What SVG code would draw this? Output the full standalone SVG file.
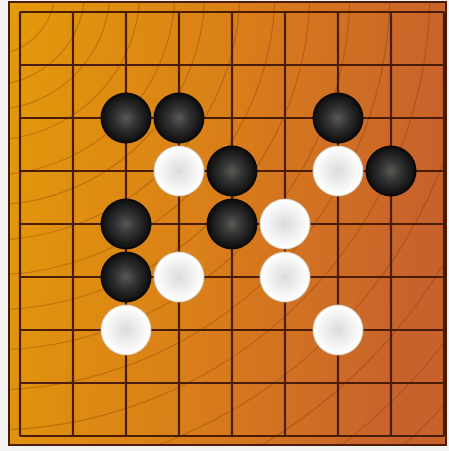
<svg xmlns="http://www.w3.org/2000/svg" width="449" height="451" viewBox="0 0 449 451">
  <defs>
    <linearGradient id="wood" x1="0" y1="0" x2="1" y2="0.15">
      <stop offset="0" stop-color="#E39A0A"/>
      <stop offset="0.5" stop-color="#DA8018"/>
      <stop offset="1" stop-color="#C8622C"/>
    </linearGradient>
    <radialGradient id="blackStone" cx="0.5" cy="0.5" r="0.5">
      <stop offset="0" stop-color="#585854"/>
      <stop offset="0.45" stop-color="#303030"/>
      <stop offset="0.85" stop-color="#151515"/>
      <stop offset="1" stop-color="#050505"/>
    </radialGradient>
    <radialGradient id="whiteStone" cx="0.5" cy="0.5" r="0.5">
      <stop offset="0" stop-color="#DCDCDC"/>
      <stop offset="0.6" stop-color="#F2F2F2"/>
      <stop offset="0.93" stop-color="#FFFFFF"/>
      <stop offset="1" stop-color="#C8B8A0"/>
    </radialGradient>
    <clipPath id="boardClip">
      <rect x="9" y="2" width="437" height="443"/>
    </clipPath>
  </defs>
  <style>
    .grain { fill: none; stroke: #6A2A08; stroke-opacity: 0.28; stroke-width: 1.2; }
    .grid { stroke: #4A1C06; stroke-width: 2.2; fill: none; }
    .frame { fill: none; stroke: #4A1C06; stroke-width: 2; }
    .b { fill: url(#blackStone); }
    .w { fill: url(#whiteStone); }
  </style>
  <rect width="449" height="451" fill="#F4F2F0"/>
  <g id="board">
    <rect x="9" y="2" width="437" height="443" fill="url(#wood)"/>
    <g clip-path="url(#boardClip)">
      <circle class="grain" cx="-10" cy="-10" r="65"/>
      <circle class="grain" cx="-10" cy="-10" r="95"/>
      <circle class="grain" cx="-10" cy="-10" r="120"/>
      <circle class="grain" cx="-10" cy="-10" r="150"/>
      <circle class="grain" cx="-10" cy="-10" r="185"/>
      <circle class="grain" cx="-10" cy="-10" r="215"/>
      <circle class="grain" cx="-10" cy="-10" r="250"/>
      <circle class="grain" cx="-10" cy="-10" r="285"/>
      <circle class="grain" cx="-10" cy="-10" r="320"/>
      <circle class="grain" cx="-10" cy="-10" r="360"/>
      <circle class="grain" cx="-10" cy="-10" r="400"/>
      <circle class="grain" cx="-10" cy="-10" r="440"/>
      <circle class="grain" cx="-10" cy="-10" r="485"/>
      <circle class="grain" cx="-10" cy="-10" r="530"/>
      <circle class="grain" cx="-10" cy="-10" r="575"/>
      <circle class="grain" cx="-10" cy="-10" r="615"/>
    </g>
    <rect class="frame" x="9" y="2" width="437" height="443"/>
    <g id="grid" class="grid">
      <path d="M20 12V436M73 12V436M126 12V436M179 12V436M232 12V436M285 12V436M338 12V436M391 12V436M444 12V436"/>
      <path d="M20 12H444M20 65H444M20 118H444M20 171H444M20 224H444M20 277H444M20 330H444M20 383H444M20 436H444"/>
    </g>
  </g>
  <g id="black-stones">
    <circle class="b" cx="126" cy="118" r="25.5"/>
    <circle class="b" cx="179" cy="118" r="25.5"/>
    <circle class="b" cx="338" cy="118" r="25.5"/>
    <circle class="b" cx="232" cy="171" r="25.5"/>
    <circle class="b" cx="391" cy="171" r="25.5"/>
    <circle class="b" cx="126" cy="224" r="25.5"/>
    <circle class="b" cx="232" cy="224" r="25.5"/>
    <circle class="b" cx="126" cy="277" r="25.5"/>
  </g>
  <g id="white-stones">
    <circle class="w" cx="179" cy="171" r="25.5"/>
    <circle class="w" cx="338" cy="171" r="25.5"/>
    <circle class="w" cx="285" cy="224" r="25.5"/>
    <circle class="w" cx="179" cy="277" r="25.5"/>
    <circle class="w" cx="285" cy="277" r="25.5"/>
    <circle class="w" cx="126" cy="330" r="25.5"/>
    <circle class="w" cx="338" cy="330" r="25.5"/>
  </g>
</svg>
